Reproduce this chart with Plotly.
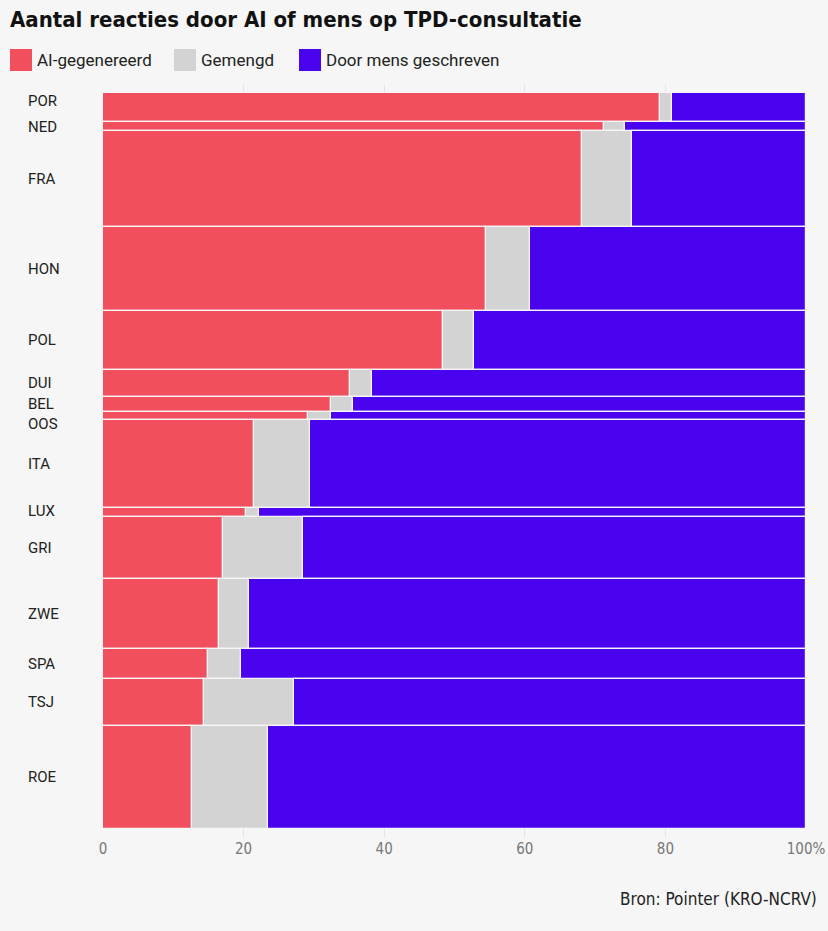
import plotly.graph_objects as go

countries = ["POR", "NED", "FRA", "HON", "POL", "DUI", "BEL", "OOS", "ITA", "LUX",
             "GRI", "ZWE", "SPA", "TSJ", "ROE"]
# relative number of responses (bar thickness)
responses = [29, 9, 96, 83, 59, 27, 15, 8, 88, 9, 62, 69, 30, 47, 103]
ai_pct = [79.2, 71.2, 68.1, 54.5, 48.4, 35.1, 32.5, 29.1, 21.5, 20.3, 17.1, 16.5, 14.9, 14.3, 12.7]
mixed_pct = [1.8, 3.0, 7.1, 6.3, 4.4, 3.1, 3.1, 3.4, 7.9, 1.9, 11.3, 4.2, 4.8, 12.9, 10.8]
human_pct = [round(100 - a - m, 1) for a, m in zip(ai_pct, mixed_pct)]

series_names = ["AI-gegenereerd", "Gemengd", "Door mens geschreven"]
colors = ["#F14E5E", "#D3D3D3", "#4A03EF"]
x_ticks = [0, 20, 40, 60, 80, 100]
x_ticktext = ["0", "20", "40", "60", "80", "100%"]
label_shift = [7, 0, 0, 0, 0, 0, 0, -8, 0, 2, 0, 0, 0, 0, 0]

total = sum(responses)
centers = []
acc = 0
for r in responses:
    centers.append(acc + r / 2)
    acc += r

fig = go.Figure()
bases = [[0] * len(countries), ai_pct, [a + m for a, m in zip(ai_pct, mixed_pct)]]
for name, vals, base, col in zip(series_names, [ai_pct, mixed_pct, human_pct], bases, colors):
    fig.add_trace(go.Bar(
        orientation="h", y=centers, x=vals, base=base, width=responses, name=name,
        marker=dict(color=col, line=dict(color="#F5F6F5", width=1.2)),
        showlegend=False, hovertemplate="%{x}%<extra>" + name + "</extra>",
    ))

W, H = 828, 931
L, R, T, B = 103, 22, 85, 94
pw, ph = W - L - R, H - T - B
pad = total * 8 / (ph - 16)
fig.update_layout(
    width=W, height=H,
    paper_bgcolor="#F5F6F5", plot_bgcolor="#F5F6F5",
    margin=dict(l=L, r=R, t=T, b=B, autoexpand=False),
    bargap=0, barmode="overlay",
    xaxis=dict(range=[0, 100], tickvals=x_ticks, ticktext=x_ticktext, showgrid=True,
               gridcolor="#E2E2E2", gridwidth=1, zeroline=False, showline=False,
               tickfont=dict(family="DejaVu Sans Condensed", size=15, color="#777777"),
               ticks="", ticklabelstandoff=1, automargin=False),
    yaxis=dict(range=[total + pad, -pad], showticklabels=False, showgrid=False,
               zeroline=False, showline=False, automargin=False),
    font=dict(family="Roboto"),
)

# title
fig.add_annotation(text="<b>Aantal reacties door AI of mens op TPD-consultatie</b>",
                   xref="paper", yref="paper", x=-L / pw, y=1 + T / ph,
                   xanchor="left", yanchor="top", yshift=-5, xshift=8, showarrow=False,
                   font=dict(family="DejaVu Sans Condensed", size=22, color="#111111"))

# legend
leg_x = [10, 174, 299]
for nm, col, lx in zip(series_names, colors, leg_x):
    fig.add_shape(type="rect", xref="paper", yref="paper",
                  x0=(lx - L) / pw, x1=(lx + 22 - L) / pw,
                  y0=1 + (T - 71) / ph, y1=1 + (T - 49) / ph,
                  fillcolor=col, line=dict(width=0))
    fig.add_annotation(text=nm, xref="paper", yref="paper",
                       x=(lx + 25 - L) / pw, y=1 + (T - 60) / ph,
                       xanchor="left", yanchor="middle", showarrow=False,
                       font=dict(family="Roboto", size=17, color="#222222"))

# category labels
for c, y, s in zip(countries, centers, label_shift):
    fig.add_annotation(text=c, xref="paper", yref="y", x=-77 / pw, y=y,
                       xanchor="left", yanchor="middle", showarrow=False, yshift=s,
                       font=dict(family="Roboto", size=15, color="#222222"))

# source
fig.add_annotation(text="Bron: Pointer (KRO-NCRV)", xref="paper", yref="paper",
                   x=1 + 13 / pw, y=-(899 - (H - B)) / ph, xanchor="right", yanchor="middle",
                   showarrow=False,
                   font=dict(family="DejaVu Sans Condensed", size=17, color="#222222"))

fig.write_html("out.html")
